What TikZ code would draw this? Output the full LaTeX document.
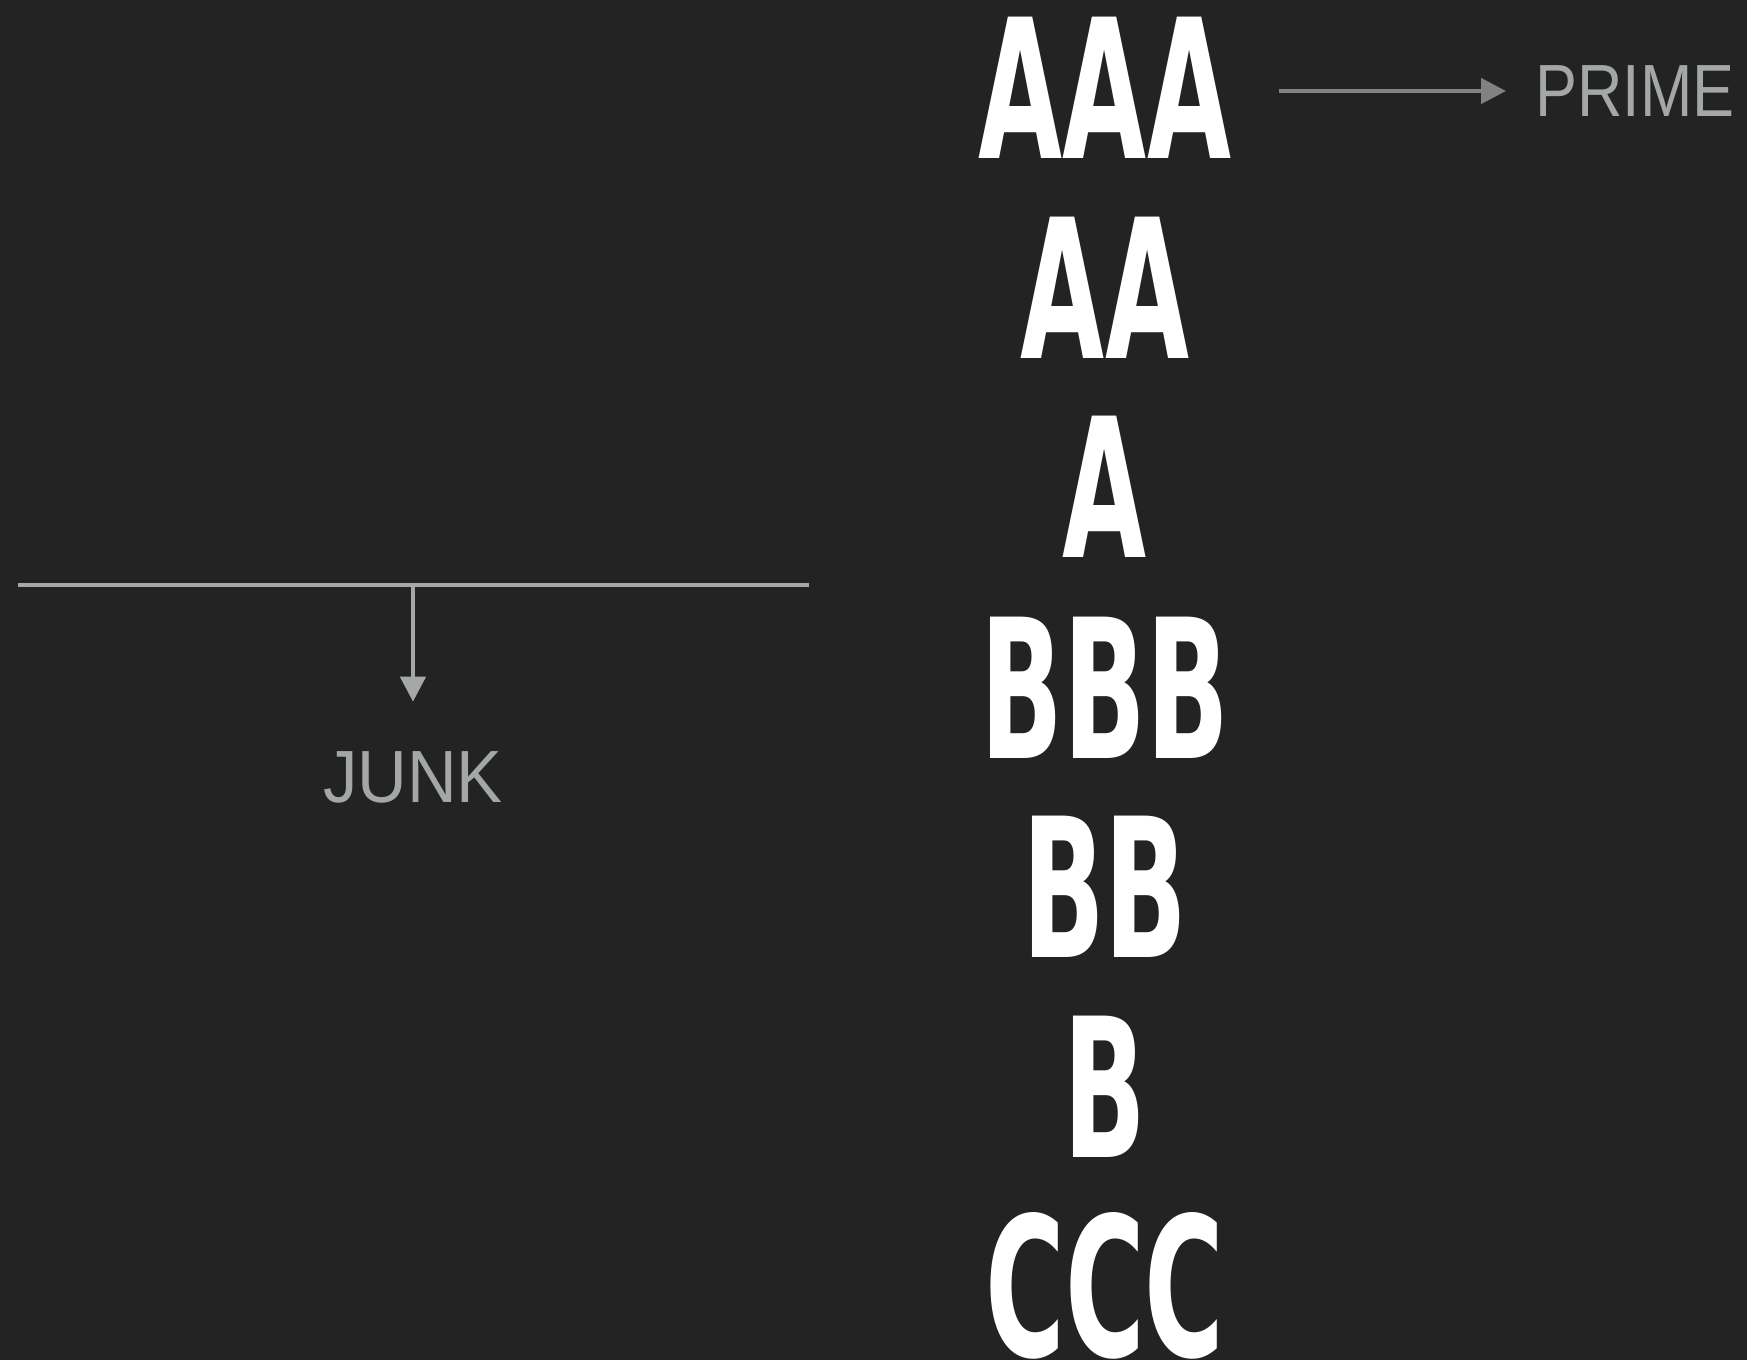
\documentclass[tikz,border=0pt]{standalone}
\usepackage{fontspec}
\usepackage{graphicx}
\setmainfont{Liberation Sans}
\newfontfamily\heavyfont{DejaVu Sans Bold}
\usetikzlibrary{arrows.meta}

\definecolor{bgdark}{HTML}{232323}
\definecolor{labelgrey}{HTML}{A3A7A5}
\definecolor{arrowgrey}{HTML}{808382}
\definecolor{bargrey}{HTML}{A4A8A6}

% tall, narrow heavy lettering for the stacked words
\newcommand\tallword[1]{\scalebox{0.56}[1]{#1}}
\newcommand\primelabel[1]{\scalebox{0.85}[1]{#1}}
\newcommand\junklabel[1]{\scalebox{0.93}[1]{#1}}

\tikzset{
  bigword/.style={text=white, inner sep=0pt, anchor=base,
    font=\fontsize{97pt}{97pt}\heavyfont},
  greylabel/.style={text=labelgrey, inner sep=0pt,
    font=\fontsize{37pt}{37pt}\selectfont},
  garrow/.style={line width=2.25pt,
    -{Triangle[length=12.5pt,width=12.5pt]}},
}

\begin{document}
\begin{tikzpicture}[x=0.5pt,y=-0.5pt]
  \path[use as bounding box] (0,0) rectangle (1747,1360);
  \clip (0,0) rectangle (1747,1360);
  \fill[bgdark] (0,0) rectangle (1747,1360);

  % stacked words, one per line
  \node[bigword] (aaa) at (1105,158)  {\tallword{AAA}};
  \node[bigword] (aa)  at (1105,358)  {\tallword{AA}};
  \node[bigword] (a)   at (1105,557)  {\tallword{A}};
  \node[bigword] (bbb) at (1105,758)  {\tallword{BBB}};
  \node[bigword] (bb)  at (1105,957)  {\tallword{BB}};
  \node[bigword] (b)   at (1105,1157) {\tallword{B}};
  \node[bigword] (ccc) at (1105,1356) {\tallword{CCC}};

  % labels
  \node[greylabel, anchor=base west] (prime) at (1535,116) {\primelabel{PRIME}};
  \node[greylabel, anchor=base] (junk) at (413,802) {\junklabel{JUNK}};

  % arrow to PRIME
  \coordinate (pstart) at (1279,91);
  \draw[garrow, draw=arrowgrey, fill=arrowgrey, shorten >=14.5pt]
    (pstart) -- (prime.west |- pstart);

  % cut line with a drop to JUNK
  \coordinate (barL) at (18,585);
  \coordinate (barR) at (809,585);
  \coordinate (drop) at (413,585);
  \draw[bargrey, line width=2.25pt] (barL) -- (barR);
  \draw[garrow, draw=bargrey, fill=bargrey, shorten >=24.5pt]
    (drop) -- (junk.north);
\end{tikzpicture}
\end{document}
